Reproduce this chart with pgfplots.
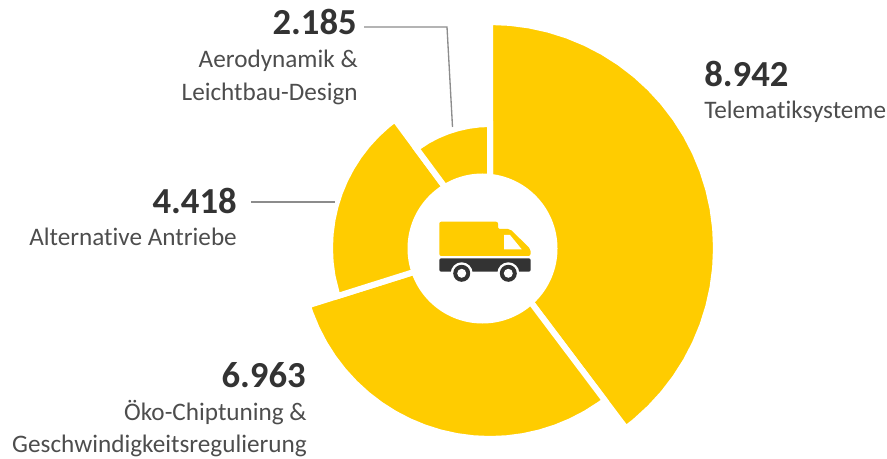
\documentclass[border=0pt]{standalone}
\usepackage{fontspec}
\setmainfont[Ligatures={NoCommon,TeX}]{Carlito}
\usepackage{pgfplots}
\pgfplotsset{compat=1.18}
\usepgfplotslibrary{polar}
\definecolor{gelb}{HTML}{FFCC00}
\definecolor{dunkel}{HTML}{333333}
\definecolor{grautext}{HTML}{4D4D4D}
\definecolor{linie}{HTML}{8C8C8C}
\tikzset{
  num/.style={inner sep=0pt,text=dunkel,font=\fontsize{27.5}{27.5}\selectfont\bfseries},
  lab/.style={inner sep=0pt,text=grautext,font=\fontsize{18.9}{18.9}\selectfont},
}
\begin{document}
% picture coordinates = reference pixels, y downwards
\begin{tikzpicture}[x=0.75pt,y=-0.75pt]
\path[use as bounding box] (0,0) rectangle (887,459);
\begin{polaraxis}[
    at={(367.5pt,-186pt)},anchor=center,
    scale only axis,width=339pt,height=339pt,
    xmin=0,xmax=360,ymin=0,ymax=226,
    hide axis,clip=false,
]
% wedges: angle in degrees, radius in pixels
% Telematiksysteme 8942
\addplot[fill=gelb,draw=white,line width=4.5pt] coordinates {
(0,0) (307,226) (310,226) (315,226) (320,226) (325,226) (330,226) (335,226) (340,226)
(345,226) (350,226) (355,226) (360,226) (5,226) (10,226) (15,226) (20,226) (25,226)
(30,226) (35,226) (40,226) (45,226) (50,226) (55,226) (60,226) (65,226) (70,226)
(75,226) (80,226) (85,226) (90,226)} -- cycle;
% Oeko-Chiptuning 6963
\addplot[fill=gelb,draw=white,line width=4.5pt] coordinates {
(0,0) (197.5,191) (200,191) (205,191) (210,191) (215,191) (220,191) (225,191) (230,191)
(235,191) (240,191) (245,191) (250,191) (255,191) (260,191) (265,191) (270,191) (275,191)
(280,191) (285,191) (290,191) (295,191) (300,191) (305,191) (307,191)} -- cycle;
% Alternative Antriebe 4418
\addplot[fill=gelb,draw=white,line width=4.5pt] coordinates {
(0,0) (126.5,160) (130,160) (135,160) (140,160) (145,160) (150,160) (155,160) (160,160)
(165,160) (170,160) (175,160) (180,160) (185,160) (190,160) (197.5,160)} -- cycle;
% Aerodynamik 2185
\addplot[fill=gelb,draw=white,line width=4.5pt] coordinates {
(0,0) (90,124) (95,124) (100,124) (105,124) (110,124) (115,124) (120,124) (126.5,124)} -- cycle;
\end{polaraxis}
% hole and truck
\fill[white] (482.5,248.5) circle (75);
\fill[gelb,rounded corners=1.5] (439.3,256) -- (439.3,221.7) -- (498,221.7) -- (498,229) -- (510,229) -- (530.5,249) -- (530.5,256) -- cycle;
\fill[white] (504,235) -- (510,235) -- (521.7,249.3) -- (504,249.3) -- cycle;
\fill[dunkel,rounded corners=1.5] (439.3,258.3) rectangle (530.7,271.7);
\foreach \wx in {461.7,508.3}{
  \fill[white] (\wx,273.3) circle (11);
  \fill[dunkel] (\wx,273.3) circle (8.5);
  \fill[white] (\wx,273.3) circle (4.5);
}
% leader lines
\draw[linie,line width=1pt] (364,27) -- (447,27) -- (452.5,127);
\draw[linie,line width=1pt] (251,202) -- (335,202);
% labels
\node[num,anchor=base east] at (357,35) {2.185};
\node[lab,anchor=base east] at (358,68) {Aerodynamik \&};
\node[lab,anchor=base east] at (358,100.5) {Leichtbau-Design};
\node[num,anchor=base west] at (704,87) {8.942};
\node[lab,anchor=base west] at (704,119) {Telematiksysteme};
\node[num,anchor=base east] at (237,214) {4.418};
\node[lab,anchor=base east] at (237,246) {Alternative Antriebe};
\node[num,anchor=base east] at (306,387) {6.963};
\node[lab,anchor=base east] at (307,420) {Öko-Chiptuning \&};
\node[lab,anchor=base east] at (307,452) {Geschwindigkeitsregulierung};
\end{tikzpicture}
\end{document}
